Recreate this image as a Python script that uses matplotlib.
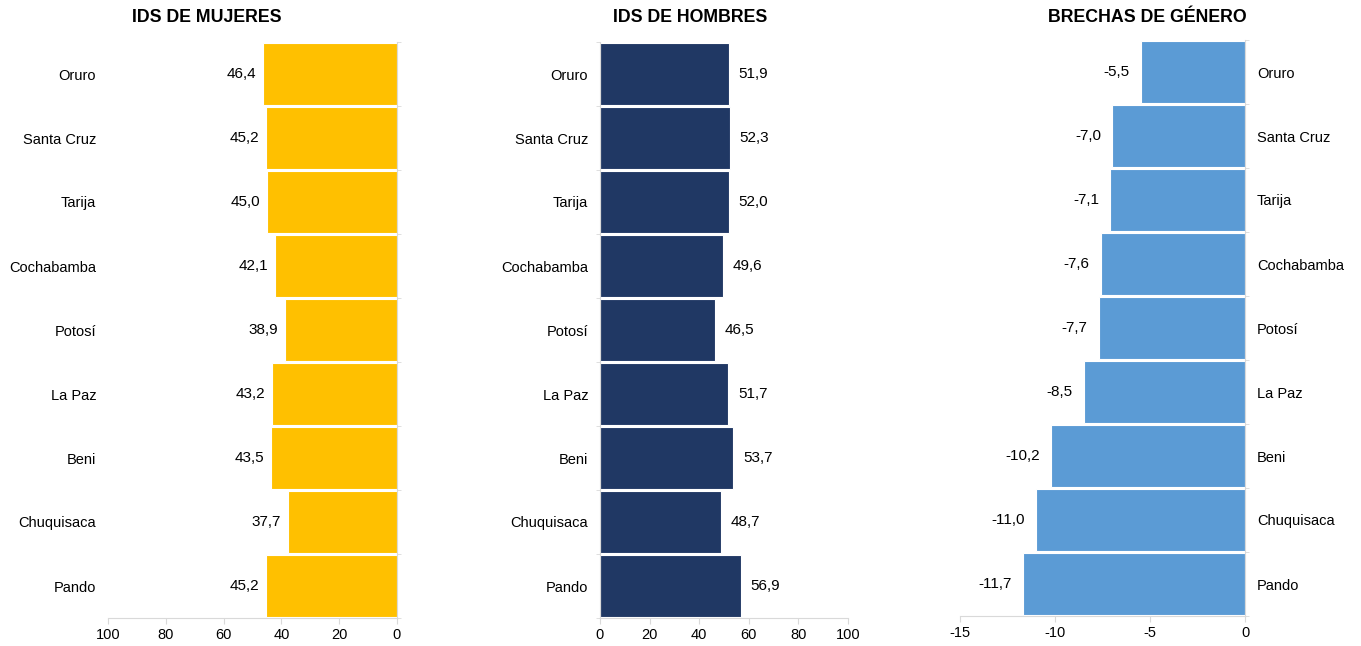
import matplotlib.pyplot as plt
import numpy as np

plt.rcParams['font.family'] = ['Liberation Sans', 'DejaVu Sans']
plt.rcParams['axes.unicode_minus'] = False

depts = ["Oruro", "Santa Cruz", "Tarija", "Cochabamba", "Potosí",
         "La Paz", "Beni", "Chuquisaca", "Pando"]
mujeres = [46.4, 45.2, 45.0, 42.1, 38.9, 43.2, 43.5, 37.7, 45.2]
hombres = [51.9, 52.3, 52.0, 49.6, 46.5, 51.7, 53.7, 48.7, 56.9]
brechas = [-5.5, -7.0, -7.1, -7.6, -7.7, -8.5, -10.2, -11.0, -11.7]

titles = ["IDS DE MUJERES", "IDS DE HOMBRES", "BRECHAS DE GÉNERO"]
colors = ["#FFC000", "#203864", "#5B9BD5"]
axis_grey = "#d9d9d9"

W, H = 1361, 646
fig = plt.figure(figsize=(W / 100, H / 100), dpi=100)

def fr(x0, x1, y0, y1):
    return [x0 / W, 1 - y1 / H, (x1 - x0) / W, (y1 - y0) / H]

axes = [
    fig.add_axes(fr(108, 397, 42, 618)),
    fig.add_axes(fr(600, 848, 42, 618)),
    fig.add_axes(fr(960, 1245, 40, 616)),
]

def fmt(v):
    return f"{v:.1f}".replace(".", ",")

y = np.arange(len(depts))

# panel 1: women, mirrored
ax = axes[0]
ax.barh(y, mujeres, height=0.97, color=colors[0], edgecolor="white", linewidth=0.8)
ax.set_xlim(100, 0)
for yi, v in zip(y, mujeres):
    ax.annotate(fmt(v), (v, yi), xytext=(-5, 0), textcoords="offset points",
                ha="right", va="center", fontsize=11)

# panel 2: men
ax = axes[1]
ax.barh(y, hombres, height=0.97, color=colors[1], edgecolor="white", linewidth=0.8)
ax.set_xlim(0, 100)
for yi, v in zip(y, hombres):
    ax.annotate(fmt(v), (v, yi), xytext=(7, 0), textcoords="offset points",
                ha="left", va="center", fontsize=11)

# panel 3: gaps
ax = axes[2]
ax.barh(y, brechas, height=0.97, color=colors[2], edgecolor="white", linewidth=0.8)
ax.set_xlim(-15, 0)
ax.set_xticks([-15, -10, -5, 0])
for yi, v in zip(y, brechas):
    ax.annotate(fmt(v), (v, yi), xytext=(-8, 0), textcoords="offset points",
                ha="right", va="center", fontsize=11)

for i, ax in enumerate(axes):
    ax.set_ylim(len(depts) - 0.5, -0.5)
    ax.set_yticks(y)
    ax.set_yticks(np.arange(len(depts) + 1) - 0.5, minor=True)
    for s in ax.spines.values():
        s.set_visible(False)
        s.set_color(axis_grey)
    ax.spines["bottom"].set_visible(True)
    side = "left" if i == 1 else "right"
    ax.spines[side].set_visible(True)
    ax.tick_params(axis="x", colors=axis_grey, labelcolor="black", labelsize=10.5, length=4)
    ax.tick_params(axis="y", which="major", length=0, labelsize=10.5,
                   left=False, right=False,
                   labelleft=(i != 2), labelright=(i == 2), pad=8.5)
    ax.tick_params(axis="y", which="minor", length=3, color=axis_grey,
                   left=(side == "left"), right=(side == "right"))
    ax.set_yticklabels(depts)

title_x = [207, 690, 1147]
for tx, t in zip(title_x, titles):
    fig.text(tx / W, 1 - 18 / H, t, ha="center", va="center",
             fontsize=12.8, fontweight="bold")

fig.savefig("out.png", dpi=100)
